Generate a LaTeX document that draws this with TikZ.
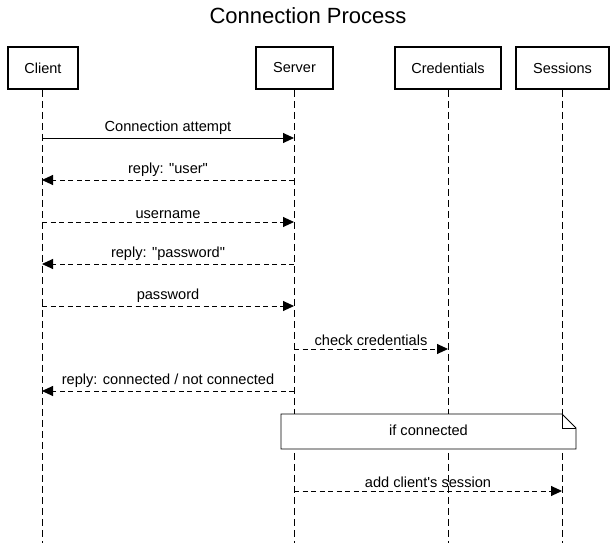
\documentclass[tikz,border=0pt]{standalone}
\usepackage{fontspec}
\setmainfont{Liberation Sans}[Ligatures=TeXOff]
\usetikzlibrary{arrows.meta}
\begin{document}
\begin{tikzpicture}[x=1pt,y=-1pt,
  actor/.style={draw,line width=1.8pt,fill=white,minimum height=42pt,inner sep=0pt,font=\fontsize{14.5}{16}\selectfont},
  life/.style={line width=0.9pt,dash pattern=on 7pt off 4pt},
  msg/.style={line width=0.9pt,-{Triangle[length=11pt,width=10pt]}},
  reply/.style={msg,dash pattern=on 5pt off 3.5pt},
  lbl/.style={font=\fontsize{14.6}{16}\selectfont,inner sep=0pt,anchor=base}]
\useasboundingbox (0,0) rectangle (616,543);
\node[font=\fontsize{22}{24}\selectfont] (title) at (308,16) {Connection Process};
\node[actor,minimum width=70pt] (client) at (43,68) {Client};
\node[actor,minimum width=77pt] (server) at (294.5,68) {Server};
\node[actor,minimum width=106pt] (cred) at (448,68) {Credentials};
\node[actor,minimum width=93pt] (sess) at (562.5,68) {Sessions};
\coordinate (cE) at (42,543);
\coordinate (sE) at (294,543);
\coordinate (crE) at (448,543);
\coordinate (seE) at (562,543);
\draw[life] (client.south -| cE) -- (cE);
\draw[life] (server.south -| sE) -- (sE);
\draw[life] (cred.south -| crE) -- (crE);
\draw[life] (sess.south -| seE) -- (seE);
% messages
\foreach \y/\nm in {138/a,180/b,222/c,264/d,306/e,349/f,391/g,491/h}{
  \coordinate (c\nm) at (42,\y);
  \coordinate (s\nm) at (294,\y);
  \coordinate (cr\nm) at (448,\y);
  \coordinate (se\nm) at (562,\y);
}
\draw[msg] (ca) -- node[lbl,above=3pt] (la) {Connection attempt} (sa);
\draw[reply] (sb) -- node[lbl,above=3pt] (lb) {reply: "user"} (cb);
\draw[reply] (cc) -- node[lbl,above=3pt] (lc) {username} (sc);
\draw[reply] (sd) -- node[lbl,above=3pt] (ld) {reply: "password"} (cd);
\draw[reply] (ce) -- node[lbl,above=3pt] (le) {password} (se);
\draw[reply] (sf) -- node[lbl,above=3pt] (lf) {check credentials} (crf);
\draw[reply] (sg) -- node[lbl,above=3pt] (lg) {reply: connected / not connected} (cg);
\draw[reply] (sh) -- node[lbl,above=3pt] (lh) {add client's session} (seh);
% note
\draw[line width=0.9pt,fill=white] (281,414) -- (562,414) -- (576,428) -- (576,449) -- (281,449) -- cycle;
\draw[line width=0.9pt] (562,414) -- (562,428) -- (576,428);
\node[lbl,anchor=center] (note) at (428.5,430) {if connected};
\end{tikzpicture}
\end{document}
